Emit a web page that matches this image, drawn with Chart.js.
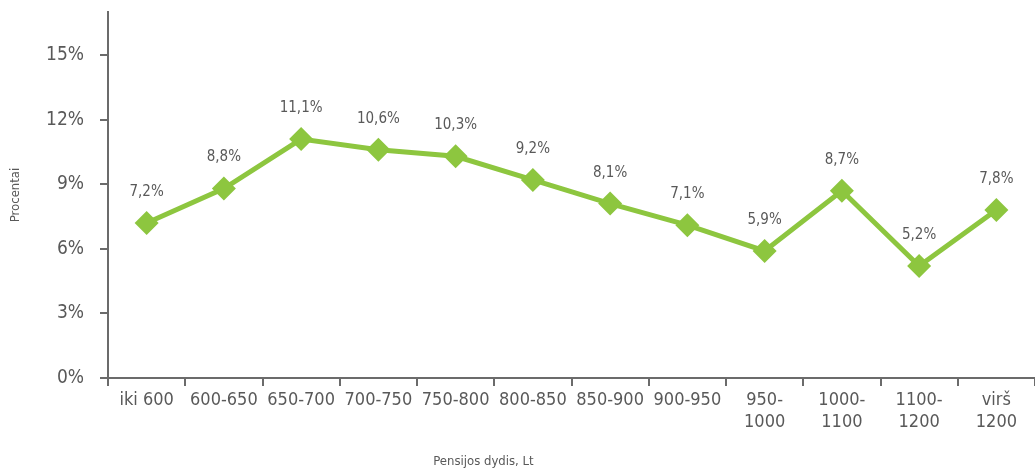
<!DOCTYPE html>
<html>
<head>
<meta charset="utf-8">
<script src="https://cdn.jsdelivr.net/npm/chart.js@4/dist/chart.umd.min.js"></script>
<style>
  html, body { margin: 0; padding: 0; background: #fff; overflow: hidden; }
  #wrap { width: 1035px; height: 472px; position: relative; }
  #pensionChart { display: block; }
</style>
</head>
<body>
<div id="wrap"><canvas id="pensionChart"></canvas></div>
<script>
// --- Data ---
const categories = ['iki 600', '600-650', '650-700', '700-750', '750-800', '800-850',
    '850-900', '900-950', ['950-', '1000'], ['1000-', '1100'], ['1100-', '1200'], ['virš', '1200']];
const shares = [7.2, 8.8, 11.1, 10.6, 10.3, 9.2, 8.1, 7.1, 5.9, 8.7, 5.2, 7.8];
const yTicks = [0, 3, 6, 9, 12, 15];
const yTitle = 'Procentai';
const xTitle = 'Pensijos dydis, Lt';

const FONT = "'DejaVu Sans Condensed', 'Liberation Sans Narrow', sans-serif";
const TEXT = '#595959';
const AXIS = '#6b6b6b';
const GREEN = '#8dc63f';

// labels above each point, e.g. "7,2%"
const pointLabels = {
    id: 'pointLabels',
    afterDatasetsDraw(chart) {
        const ctx = chart.ctx;
        const meta = chart.getDatasetMeta(0);
        ctx.save();
        ctx.font = `15px ${FONT}`;
        ctx.fillStyle = TEXT;
        ctx.textAlign = 'center';
        ctx.textBaseline = 'middle';
        meta.data.forEach((pt, i) => {
            ctx.fillText(shares[i].toFixed(1).replace('.', ',') + '%', pt.x, pt.y - 31);
        });
        ctx.restore();
    }
};

// x axis title sits left of centre in the original
const xAxisTitle = {
    id: 'xAxisTitle',
    afterDraw(chart) {
        const { ctx, chartArea } = chart;
        ctx.save();
        ctx.font = `13px ${FONT}`;
        ctx.fillStyle = TEXT;
        ctx.textAlign = 'center';
        ctx.textBaseline = 'middle';
        ctx.fillText(xTitle, chartArea.left + (chartArea.right - chartArea.left) * 0.405, chart.height - 10);
        ctx.restore();
    }
};

const ctx = document.getElementById('pensionChart').getContext('2d');
new Chart(ctx, {
    type: 'line',
    data: {
        labels: categories,
        datasets: [{
            data: shares,
            borderColor: GREEN,
            backgroundColor: GREEN,
            borderWidth: 5,
            pointStyle: 'rectRot',
            pointRadius: 12,
            pointHoverRadius: 12,
            pointBorderWidth: 0,
            tension: 0
        }]
    },
    options: {
        responsive: true,
        maintainAspectRatio: false,
        animation: false,
        layout: { autoPadding: false, padding: { top: 12, right: -5, left: 0, bottom: 0 } },
        plugins: { legend: { display: false }, tooltip: { enabled: false } },
        scales: {
            x: {
                offset: true,
                grid: { offset: true, drawOnChartArea: false, tickLength: 8, color: AXIS, lineWidth: 2 },
                border: { color: AXIS, width: 2 },
                ticks: { color: TEXT, font: { family: FONT, size: 18 }, padding: 4, maxRotation: 0, autoSkip: false },
                afterFit: scale => {
                    scale.height = 94;
                    scale.paddingLeft = 0;
                    scale.paddingRight = 0;
                }
            },
            y: {
                min: 0,
                max: 17,
                afterBuildTicks: scale => { scale.ticks = yTicks.map(v => ({ value: v })); },
                grid: { drawOnChartArea: false, tickLength: 8, color: AXIS, lineWidth: 2 },
                border: { color: AXIS, width: 2 },
                ticks: { color: TEXT, font: { family: FONT, size: 19 }, padding: 16, callback: v => v + '%' },
                title: { display: true, text: yTitle, color: TEXT, font: { family: FONT, size: 13 }, padding: { top: 8, bottom: 0 } },
                afterFit: scale => {
                    scale.width = 108;
                    scale.paddingTop = 0;
                    scale.paddingBottom = 0;
                }
            }
        }
    },
    plugins: [pointLabels, xAxisTitle]
});
</script>
</body>
</html>
